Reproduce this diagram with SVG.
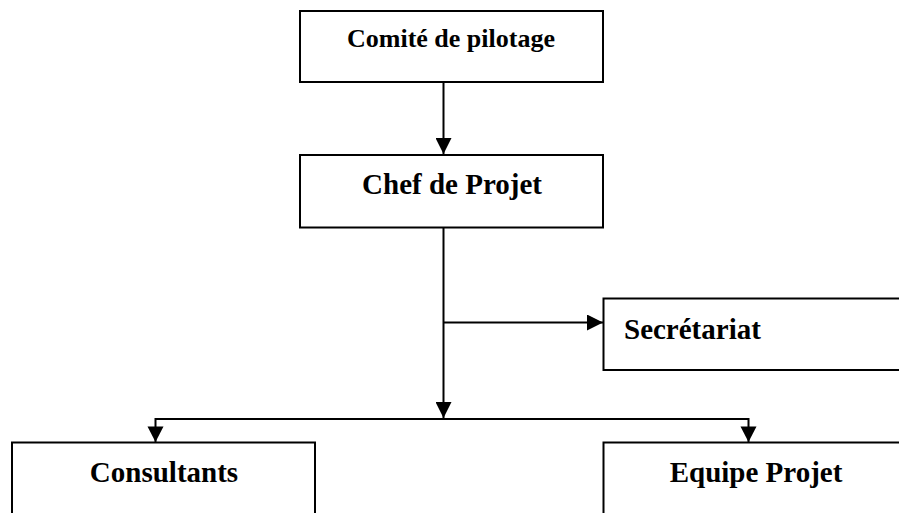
<svg xmlns="http://www.w3.org/2000/svg" width="899" height="513" viewBox="0 0 899 513">
  <defs>
    <style>
      .box { fill: #ffffff; stroke: #000000; stroke-width: 2; }
      .line { fill: none; stroke: #000000; stroke-width: 2; }
      .label { font-family: "Liberation Serif", "Times New Roman", serif; font-weight: bold; fill: #000000; }
    </style>
    <marker id="arrow" markerWidth="16" markerHeight="16" viewBox="0 0 16 16" refX="16" refY="8" orient="auto" markerUnits="userSpaceOnUse">
      <path d="M0,0 L16,8 L0,16 Z" fill="#000000"/>
    </marker>
  </defs>

  <!-- connectors -->
  <g id="connectors">
    <line class="line" x1="443.5" y1="82" x2="443.5" y2="154" marker-end="url(#arrow)"/>
    <line class="line" x1="443.5" y1="228" x2="443.5" y2="418" marker-end="url(#arrow)"/>
    <line class="line" x1="443.5" y1="322.5" x2="603" y2="322.5" marker-end="url(#arrow)"/>
    <polyline class="line" points="155.5,442 155.5,419 748.5,419 748.5,442"/>
    <path d="M147.5,426.5 L163.5,426.5 L155.5,442 Z" fill="#000000"/>
    <path d="M740.5,426.5 L756.5,426.5 L748.5,442 Z" fill="#000000"/>
  </g>

  <g id="comite">
    <rect class="box" x="300" y="11" width="303" height="71"/>
    <text class="label" x="451" y="47" font-size="26" text-anchor="middle">Comité de pilotage</text>
  </g>

  <g id="chef">
    <rect class="box" x="300" y="155" width="303" height="72.5"/>
    <text class="label" x="452" y="194" font-size="29" text-anchor="middle">Chef de Projet</text>
  </g>

  <g id="secretariat">
    <rect class="box" x="603.5" y="298.5" width="310" height="71.5"/>
    <text class="label" x="624" y="338.5" font-size="29">Secrétariat</text>
  </g>

  <g id="consultants">
    <rect class="box" x="12" y="442.5" width="303" height="90"/>
    <text class="label" x="164" y="481.5" font-size="29" text-anchor="middle">Consultants</text>
  </g>

  <g id="equipe">
    <rect class="box" x="603.5" y="442.5" width="310" height="90"/>
    <text class="label" x="756" y="481.5" font-size="29" text-anchor="middle">Equipe Projet</text>
  </g>
</svg>
